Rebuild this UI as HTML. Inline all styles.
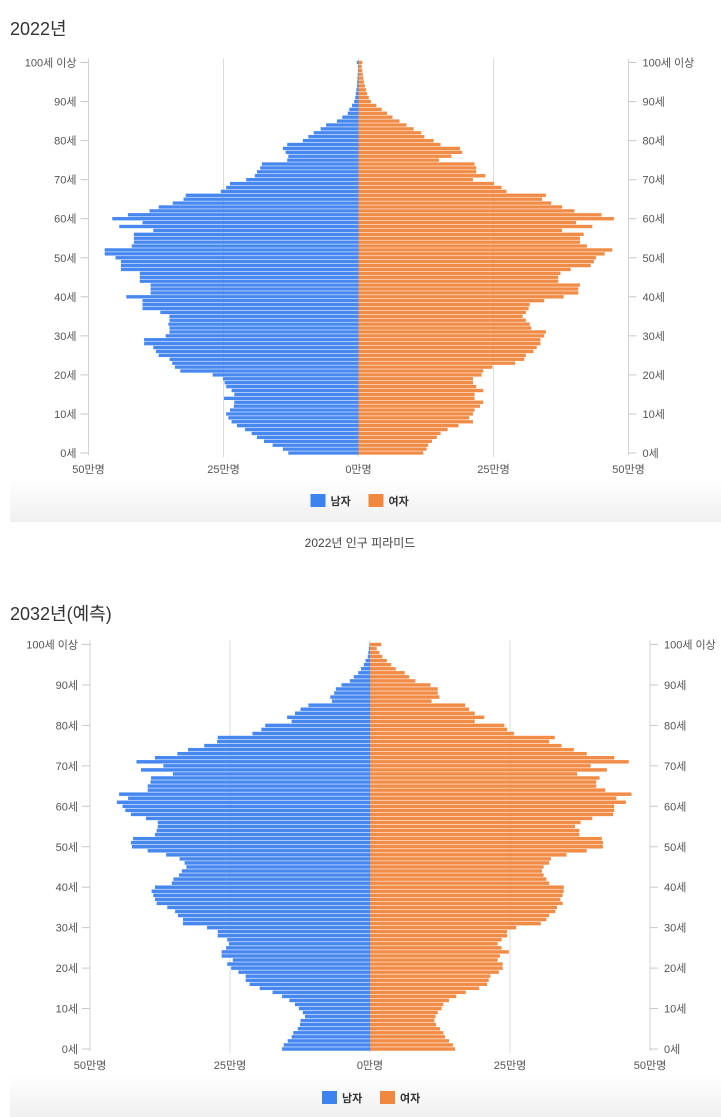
<!DOCTYPE html>
<html><head><meta charset="utf-8">
<style>
body{margin:0;background:#fff;width:721px;height:1117px;overflow:hidden;font-family:"Liberation Sans","Noto Sans CJK KR",sans-serif;}
svg{display:block}
</style></head>
<body>
<svg id="svg" width="721" height="1117" viewBox="0 0 721 1117" xmlns="http://www.w3.org/2000/svg">
<defs>
<linearGradient id="shade" x1="0" y1="0" x2="0" y2="1">
<stop offset="0" stop-color="#fff"/><stop offset="1" stop-color="#f0f0f0"/>
</linearGradient>
</defs>
<rect x="10" y="478" width="711" height="44" fill="url(#shade)"/>
<rect x="10" y="1075" width="711" height="42" fill="url(#shade)"/>
<text x="10" y="35" font-size="18" fill="#333">2022년</text>
<text x="360" y="547" font-size="12" fill="#444" text-anchor="middle">2022년 인구 피라미드</text>
<text x="10" y="620" font-size="18" fill="#333">2032년(예측)</text>
</svg>
<script>
// values in 만명, index = age 0..100
const ages = Array.from({length:101},(_, i)=>i);
const tickAges = [0,10,20,30,40,50,60,70,80,90,100];
const tickAgeLabels = ['0세','10세','20세','30세','40세','50세','60세','70세','80세','90세','100세 이상'];
const xTicks = [-50,-25,0,25,50];
const xTickLabels = ['50만명','25만명','0만명','25만명','50만명'];

const male2022 = [13,14,15.9,17.5,18.8,19.8,21,22.5,23.5,24.1,24.5,23.8,23.1,23,24.9,23,23.5,24.5,24.8,25.1,27,33,34,34.5,35,37,37.5,38,39.7,39.7,35.7,35,35,35.2,35,35,36.7,40,40,40,43,38.5,38.5,38.5,40.5,40.5,40.5,44,44,44,45,47,47,42,41.6,41.6,41.6,38,44.3,40,45.6,42.7,38.7,37,34.4,32.4,32,25.5,24.5,23.8,20.8,19.2,18.8,18.2,17.9,13.2,13,13.5,14,13.2,10.3,9.3,8.3,7,6,4,3,2,1.7,1.2,0.8,0.6,0.5,0.4,0.3,0.25,0.2,0.15,0.1,0.1,0.3];
const female2022 = [12,12.6,12.9,13.6,14.5,15.2,16.5,18.5,21.2,20.5,21.2,21.5,22.5,23.1,21.5,21.5,23.1,21.8,21.2,21.2,22.8,23.1,24.8,29,30.7,31,32.4,33,33.7,33.7,34.4,34.7,32,31.7,31,30.4,31,31.5,31.7,34.4,38,40.7,40.7,41,37,37,37.4,39.3,43,43.6,44,45.6,47,42.3,41,41,41.7,37.7,43.3,40.3,47.3,45,40,37.7,35.7,34,34.7,27.4,26.5,25.1,21.2,23.5,21.8,21.8,21.5,14.9,17.2,19.2,18.8,15.2,13.9,12.2,11.6,10.2,8.9,7.6,6.3,5.3,4.3,3.3,2.3,1.9,1.6,1.4,1.2,1,0.9,0.8,0.7,0.6,0.7];
const male2032 = [15.7,15.4,14.7,14,13.7,12.9,12.5,12.4,11.6,12,12.7,13.4,14.4,15.7,17.4,19.7,21.5,22.2,22.2,23.5,24.8,25.5,24.5,26.5,26.5,25.7,25.2,25.5,27.2,27.2,29.1,33.4,33.4,34.3,34.8,36.2,38.1,38.4,38.7,39,38.4,35.4,35.1,34.1,33.6,32.8,33.1,34,36.4,39.7,42.5,42.7,42.3,38.4,38.1,37.9,37.9,40,42.7,43.7,44.2,45.2,43.2,44.8,39.7,39.7,39.2,39.1,35.2,40.9,36.9,41.7,38.4,34.4,32.5,29.6,27.3,27.2,21,19.4,18.7,14,14.8,13.4,12.4,11,6.8,7.1,6.4,6.1,5.1,3.6,2.9,2.1,1.6,1.1,0.8,0.4,0.3,0.2,0.1];
const female2032 = [15.2,14.8,14.1,13.4,13.1,12.5,11.8,11.5,11.7,12.1,12.8,13.1,14.1,15.4,17.1,19.5,20.9,21.2,21.5,23,23.7,23.7,22.8,23.2,24.8,23.5,22.8,23.5,24.5,24.5,26.1,30.5,31.5,32,33.1,33.4,34.4,34,34.4,34.6,34.6,32,31.5,31,30.7,31,32,32.3,35.1,38.7,41.6,41.6,41.4,37.4,37.4,36.6,37.6,39.7,43.4,43.6,43.6,45.7,44,46.7,42,40.4,40.4,41,37,42.3,39.4,46.2,43.6,38.7,36.4,34.2,32,33,25.7,24.5,24,18.7,20.4,18.7,17.7,17,11,12.4,12.1,12.1,10.8,8.1,7,6.2,4.6,3.8,3,2.2,1.7,1.2,2];

const NS='http://www.w3.org/2000/svg';
const svg=document.getElementById('svg');
function mk(tag,attrs,parent){const e=document.createElementNS(NS,tag);for(const k in attrs)e.setAttribute(k,attrs[k]);(parent||svg).appendChild(e);return e;}

function drawChart(cfg, males, females, id){
  const g=mk('g',{});
  
  
  const xScale=v=>cfg.cx+v*cfg.half/50;
  const yScale=a=>cfg.y0-(a)*(cfg.y0-cfg.y100)/100;
  const step=(cfg.y0-cfg.y100)/100;
  const bh=step*0.86;
  xTicks.forEach((t,i)=>{
    if(t===-50||t===50)return;
    const gl=mk('line',{x1:xScale(t),x2:xScale(t),y1:cfg.y100-4,y2:cfg.y0+4,stroke:'#dcdcdc','stroke-width':1},g);
    
    
  });
  [xScale(-50),xScale(50)].forEach((x,side)=>{
    const al=mk('line',{x1:x,x2:x,y1:cfg.y100-4,y2:cfg.y0+2,stroke:'#d3d3d3','stroke-width':1},g);
    
    
    tickAges.forEach((a,i)=>{
      const y=yScale(a);
      const tl=mk('line',{x1:x,x2:side?x+8:x-8,y1:y,y2:y,stroke:'#c8c8c8','stroke-width':1},g);
      
      
      const tx=mk('text',{x:side?x+14:x-12,y:y+4,'font-size':11,fill:'#555','text-anchor':side?'start':'end'},g);
      tx.textContent=tickAgeLabels[i];
      
      
    });
  });
  ages.forEach(a=>{
    const y=yScale(a)-bh/2;
    const m=mk('rect',{x:xScale(-males[a]),y:y,width:xScale(0)-xScale(-males[a]),height:bh,fill:'#4687f0'},g);
    
    
    const f=mk('rect',{x:xScale(0),y:y,width:xScale(females[a])-xScale(0),height:bh,fill:'#f18c47'},g);
    
    
  });
  xTicks.forEach((t,i)=>{
    const tx=mk('text',{x:xScale(t),y:cfg.y0+20,'font-size':11,fill:'#555','text-anchor':'middle'},g);
    tx.textContent=xTickLabels[i];
    
    
  });
  const ly=cfg.legendY;
  const r1=mk('rect',{x:cfg.cx-48,y:ly-6,width:15,height:13,fill:'#3c83ef'},g);
  
  
  const t1=mk('text',{x:cfg.cx-28,y:ly+5,'font-size':11,'font-weight':'bold',fill:'#333'},g);
  t1.textContent='남자';
  
  
  const r2=mk('rect',{x:cfg.cx+10,y:ly-6,width:15,height:13,fill:'#f0883f'},g);
  
  
  const t2=mk('text',{x:cfg.cx+30,y:ly+5,'font-size':11,'font-weight':'bold',fill:'#333'},g);
  t2.textContent='여자';
  
  
}
drawChart({cx:358.5,half:270,y100:62.5,y0:453,legendY:500},male2022,female2022,'chart-2022');
drawChart({cx:370,half:280,y100:644.5,y0:1049,legendY:1097},male2032,female2032,'chart-2032');
</script>
</body></html>
